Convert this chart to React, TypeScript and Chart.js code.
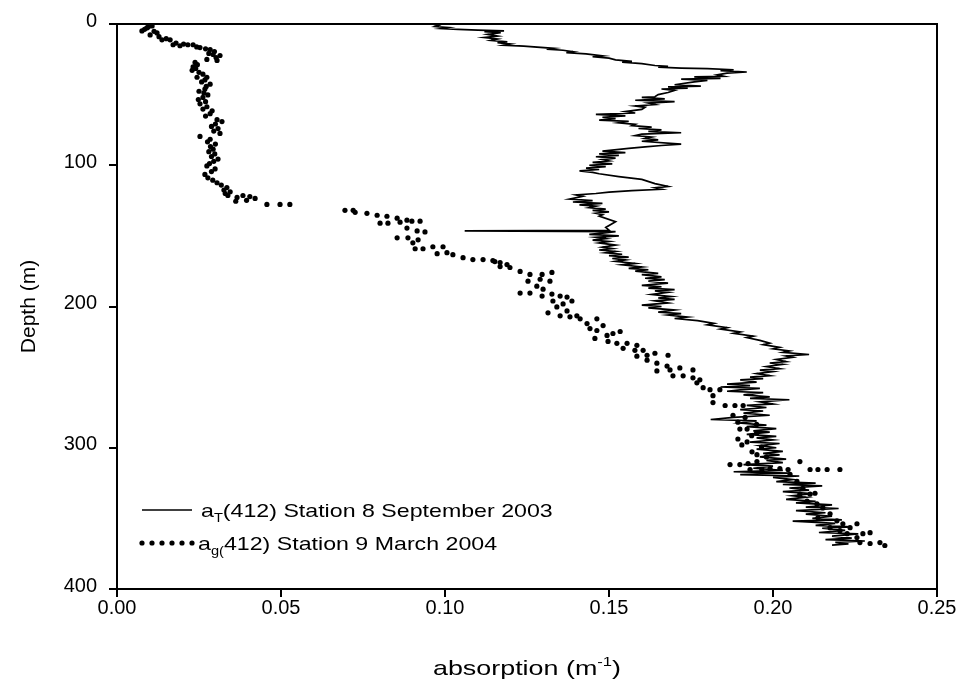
import { useEffect, useRef } from 'react';
import { Chart, registerables } from 'chart.js';

Chart.register(...registerables);

// ---- Data (absorption m^-1, depth m) ----
const xTickValues = [0, 0.05, 0.1, 0.15, 0.2, 0.25];
const yTickValues = [0, 100, 200, 300, 400];

const legendLineLabel = ['a', 'T', '(412) Station 8 September 2003'];
const legendDotLabel = ['a', 'g(', '412) Station 9 March 2004'];
const xTitle = ['absorption (m', '-1', ')'];
const yTitle = 'Depth (m)';

// a_T(412) Station 8, September 2003 (solid line)
const aTSept2003: [number, number][] = [
  [0.096, 0], [0.098, 1], [0.097, 1.8], [0.101, 2.5], [0.099, 3.2], [0.104, 3.8], [0.110, 4.4], [0.118, 4.9],
  [0.112, 5.5], [0.117, 6.2], [0.113, 7.4], [0.116, 8.6], [0.112, 9.6], [0.116, 10.6], [0.114, 11.6], [0.119, 12.6],
  [0.116, 13.2], [0.120, 14.2], [0.118, 15], [0.124, 15.6], [0.133, 17.2], [0.131, 17.8], [0.136, 18.6], [0.139, 19.6],
  [0.137, 20.2], [0.143, 21.2], [0.148, 22.6], [0.145, 23.2], [0.150, 24.2], [0.152, 25.4], [0.157, 26.4], [0.154, 27],
  [0.160, 28], [0.164, 29.4], [0.168, 30], [0.165, 30.6], [0.172, 31.2], [0.180, 31.6], [0.188, 32.4], [0.184, 33],
  [0.192, 34], [0.186, 34.8], [0.183, 36], [0.185, 37], [0.176, 37.5], [0.184, 38.5], [0.172, 39], [0.180, 40],
  [0.176, 41], [0.170, 43], [0.178, 44], [0.168, 44.5], [0.174, 45.5], [0.166, 46], [0.170, 47], [0.168, 48.5],
  [0.165, 50], [0.164, 51.5], [0.160, 52], [0.167, 53], [0.158, 54], [0.170, 55], [0.162, 56], [0.164, 57],
  [0.158, 58], [0.161, 59], [0.160, 60.5], [0.155, 62], [0.158, 63], [0.146, 64], [0.155, 65], [0.148, 66],
  [0.152, 67], [0.147, 68], [0.156, 69], [0.153, 70], [0.158, 71], [0.157, 72], [0.163, 73], [0.159, 74],
  [0.166, 75], [0.162, 76], [0.172, 77], [0.160, 78], [0.158, 79], [0.163, 80], [0.161, 81], [0.165, 82],
  [0.160, 83], [0.172, 85], [0.166, 86], [0.161, 87], [0.156, 88], [0.148, 90], [0.155, 91], [0.147, 92],
  [0.153, 93], [0.146, 94], [0.152, 95], [0.148, 96], [0.150, 97], [0.145, 98], [0.151, 99], [0.144, 100],
  [0.149, 101], [0.143, 102], [0.147, 103], [0.141, 104], [0.145, 105], [0.147, 106], [0.153, 108], [0.160, 110],
  [0.164, 113], [0.168, 115], [0.164, 116], [0.166, 117], [0.157, 118], [0.150, 119], [0.146, 120], [0.140, 121],
  [0.142, 122], [0.138, 124], [0.145, 125], [0.139, 126], [0.148, 127], [0.141, 128], [0.146, 129], [0.144, 130],
  [0.149, 131], [0.145, 132], [0.150, 133], [0.146, 134], [0.148, 135], [0.147, 136], [0.152, 140], [0.149, 144],
  [0.150, 146], [0.106, 146.5], [0.152, 147], [0.148, 148], [0.144, 149], [0.153, 150], [0.146, 151], [0.149, 152],
  [0.145, 153], [0.150, 154], [0.147, 155], [0.152, 156.5], [0.148, 158], [0.151, 159], [0.147, 160], [0.152, 161],
  [0.149, 162], [0.154, 163], [0.150, 164], [0.156, 165], [0.151, 166], [0.155, 167], [0.152, 168], [0.158, 169.5],
  [0.154, 170.5], [0.160, 172], [0.156, 173], [0.162, 174], [0.158, 175], [0.165, 176.5], [0.160, 177.5], [0.166, 179],
  [0.161, 180], [0.167, 181], [0.162, 182], [0.168, 183.5], [0.160, 185], [0.166, 186], [0.162, 187], [0.170, 188],
  [0.164, 189], [0.168, 190], [0.163, 191.5], [0.169, 193], [0.165, 194], [0.170, 195], [0.164, 196], [0.168, 197.5],
  [0.160, 199], [0.166, 200], [0.162, 201], [0.170, 202.5], [0.165, 204], [0.172, 205], [0.168, 206], [0.174, 207.5],
  [0.170, 208.5], [0.177, 210], [0.182, 212], [0.180, 213], [0.186, 215], [0.184, 216], [0.190, 218], [0.188, 219],
  [0.194, 221], [0.192, 222], [0.196, 224], [0.199, 226], [0.197, 227], [0.202, 229], [0.200, 230], [0.205, 231.5],
  [0.203, 232.5], [0.211, 234], [0.204, 235], [0.206, 236], [0.201, 237.5], [0.204, 239], [0.199, 240], [0.203, 241],
  [0.198, 242.5], [0.202, 244], [0.196, 245], [0.200, 246], [0.195, 247.5], [0.199, 249], [0.193, 250], [0.197, 251],
  [0.190, 252], [0.195, 253.5], [0.186, 255], [0.193, 256], [0.184, 257], [0.196, 258], [0.190, 259], [0.186, 260],
  [0.197, 261], [0.191, 262.5], [0.199, 264], [0.193, 265], [0.205, 266], [0.196, 267.5], [0.200, 269], [0.192, 270],
  [0.198, 271.5], [0.190, 273], [0.197, 274], [0.191, 275.5], [0.199, 277], [0.188, 278.5], [0.181, 280], [0.195, 281],
  [0.190, 282.5], [0.198, 284], [0.192, 285], [0.201, 286.5], [0.194, 288], [0.199, 289], [0.192, 290.5], [0.201, 292],
  [0.195, 293], [0.200, 294.5], [0.193, 296], [0.202, 297], [0.196, 298.5], [0.201, 300], [0.195, 301], [0.203, 302.5],
  [0.197, 304], [0.202, 305], [0.196, 306.5], [0.204, 308], [0.198, 309], [0.203, 310.5], [0.191, 312], [0.200, 313],
  [0.194, 314.5], [0.203, 316], [0.188, 317], [0.205, 318], [0.190, 319], [0.208, 320], [0.200, 321], [0.206, 322.5],
  [0.201, 324], [0.213, 325], [0.203, 326], [0.215, 327], [0.205, 328.5], [0.211, 330], [0.203, 331], [0.212, 332.5],
  [0.206, 334], [0.210, 335], [0.204, 336.5], [0.213, 338], [0.207, 339], [0.218, 340.5], [0.210, 342], [0.220, 343],
  [0.207, 344.5], [0.216, 346], [0.210, 347], [0.218, 348.5], [0.212, 350], [0.221, 351], [0.206, 352], [0.219, 353.5],
  [0.213, 355], [0.224, 356], [0.215, 357], [0.222, 358.5], [0.214, 360], [0.226, 361], [0.218, 362.5], [0.224, 364],
  [0.216, 365], [0.228, 366], [0.219, 367], [0.223, 368], [0.218, 369],
];

// a_g(412) Station 9, March 2004 (dots)
const agMarch2004: [number, number][] = [
  [0.0107, 1.4], [0.0095, 2.2], [0.0091, 2.8], [0.0084, 3.8], [0.0076, 4.9], [0.0113, 5.2], [0.0122, 6.3], [0.0101, 7.7],
  [0.0128, 9.0], [0.0150, 10.4], [0.0137, 11.2], [0.0162, 11.2], [0.0180, 13.5], [0.0203, 14.2], [0.0171, 14.7], [0.0216, 14.7],
  [0.0232, 14.7], [0.0192, 15.4], [0.0243, 16.2], [0.0253, 16.7], [0.0270, 17.6], [0.0284, 18.1], [0.0297, 19.5], [0.0280, 20.8],
  [0.0293, 21.6], [0.0314, 22.3], [0.0302, 23.7], [0.0274, 25.1], [0.0305, 25.8], [0.0238, 27.2], [0.0245, 28.8], [0.0232, 30.4],
  [0.0240, 31.5], [0.0229, 32.8], [0.0250, 34.2], [0.0262, 35.5], [0.0244, 37.7], [0.0274, 37.7], [0.0268, 39.6], [0.0258, 41.0],
  [0.0284, 42.6], [0.0272, 44.2], [0.0268, 46.1], [0.0250, 47.6], [0.0265, 48.8], [0.0277, 50.2], [0.0262, 52.0], [0.0248, 53.5],
  [0.0270, 55.0], [0.0253, 56.5], [0.0274, 58.6], [0.0262, 60.2], [0.0290, 61.5], [0.0284, 63.5], [0.0270, 65.2], [0.0305, 67.7],
  [0.0320, 69.1], [0.0300, 70.8], [0.0288, 72.5], [0.0308, 74.0], [0.0295, 75.8], [0.0314, 77.5], [0.0253, 79.6], [0.0284, 81.6],
  [0.0276, 83.4], [0.0300, 85.0], [0.0285, 86.8], [0.0293, 88.6], [0.0280, 90.4], [0.0298, 92.0], [0.0288, 93.8], [0.0308, 95.6],
  [0.0295, 97.2], [0.0282, 98.8], [0.0274, 100.5], [0.0299, 102.6], [0.0288, 104.5], [0.0268, 106.5], [0.0277, 108.9], [0.0292, 110.6],
  [0.0305, 112.4], [0.0318, 114.0], [0.0335, 115.8], [0.0326, 117.6], [0.0345, 118.8], [0.0330, 120.0], [0.0338, 121.4], [0.0384, 121.4],
  [0.0366, 122.8], [0.0405, 122.2], [0.0421, 123.5], [0.0395, 124.8], [0.0362, 125.5], [0.0457, 127.7], [0.0497, 127.7], [0.0527, 127.7],
  [0.0695, 131.9], [0.0720, 131.9], [0.0726, 133.3], [0.0762, 134.0], [0.0793, 135.4], [0.0823, 136.1], [0.0854, 137.5], [0.0884, 138.9],
  [0.0899, 139.6], [0.0924, 139.6], [0.0863, 140.3], [0.0802, 141.0], [0.0826, 141.0], [0.0884, 144.5], [0.0915, 146.5], [0.0939, 147.2],
  [0.0854, 151.4], [0.0887, 151.4], [0.0918, 152.8], [0.0902, 154.9], [0.0963, 157.7], [0.0994, 157.7], [0.0909, 159.1], [0.0933, 159.1],
  [0.1006, 161.9], [0.0976, 162.6], [0.1024, 163.3], [0.1055, 165.4], [0.1085, 166.8], [0.1116, 166.8], [0.1146, 167.5], [0.1152, 168.2],
  [0.1168, 168.9], [0.1189, 170.3], [0.1168, 171.7], [0.1198, 172.4], [0.1229, 175.2], [0.1326, 175.9], [0.1259, 177.3], [0.1296, 177.3],
  [0.1290, 180.7], [0.1253, 182.1], [0.1320, 182.1], [0.1280, 185.6], [0.1299, 187.7], [0.1229, 190.5], [0.1259, 190.5], [0.1326, 191.2],
  [0.1296, 192.6], [0.1351, 192.6], [0.1372, 193.3], [0.1329, 196.1], [0.1387, 196.1], [0.1360, 198.2], [0.1341, 200.3], [0.1372, 203.1],
  [0.1314, 204.5], [0.1402, 206.6], [0.1351, 206.6], [0.1381, 207.3], [0.1412, 208.7], [0.1463, 208.7], [0.1433, 212.1], [0.1482, 213.5],
  [0.1442, 215.6], [0.1463, 217.0], [0.1534, 217.7], [0.1512, 219.1], [0.1494, 220.5], [0.1457, 222.6], [0.1497, 224.7], [0.1524, 226.1],
  [0.1555, 226.1], [0.1585, 227.5], [0.1543, 229.6], [0.1579, 231.0], [0.1604, 231.0], [0.1640, 233.1], [0.1616, 234.5], [0.1680, 234.5],
  [0.1585, 235.2], [0.1616, 238.0], [0.1646, 240.1], [0.1677, 242.2], [0.1716, 243.5], [0.1686, 244.9], [0.1646, 245.6], [0.1756, 244.9],
  [0.1695, 249.1], [0.1726, 249.1], [0.1756, 250.5], [0.1777, 251.9], [0.1768, 254.0], [0.1787, 257.5], [0.1808, 258.9], [0.1838, 258.9],
  [0.1817, 263.1], [0.1817, 268.0], [0.1854, 270.1], [0.1884, 270.1], [0.1909, 270.1], [0.1878, 277.0], [0.1915, 278.5], [0.1893, 281.9],
  [0.1950, 283.5], [0.1899, 286.8], [0.1921, 286.8], [0.1950, 289.5], [0.1935, 291.5], [0.1893, 293.8], [0.1921, 295.9], [0.1905, 298.0],
  [0.1965, 299.5], [0.1936, 302.9], [0.1951, 304.9], [0.1980, 306.5], [0.1951, 309.8], [0.2082, 309.8], [0.1924, 311.2], [0.1869, 311.9],
  [0.1899, 311.9], [0.1991, 314.7], [0.2021, 314.7], [0.1930, 315.4], [0.1966, 315.4], [0.2046, 315.4], [0.2113, 315.4], [0.2137, 315.4],
  [0.2165, 315.4], [0.2204, 315.4], [0.2052, 318.9], [0.2073, 323.8], [0.2091, 328.7], [0.2128, 332.2], [0.2082, 332.9], [0.2113, 332.9],
  [0.2104, 337.8], [0.2134, 339.8], [0.2152, 342.6], [0.2174, 346.8], [0.2137, 349.6], [0.2195, 351.7], [0.2213, 353.8], [0.2256, 353.8],
  [0.2174, 356.6], [0.2235, 356.6], [0.2204, 358.7], [0.2296, 360.1], [0.2226, 360.8], [0.2274, 360.8], [0.2256, 363.6], [0.2265, 367.1],
  [0.2326, 367.1], [0.2296, 367.8], [0.2341, 369.2],
];

const FONT = '"Liberation Sans", Arial, Helvetica, sans-serif';

type Part = { t: string; size: number; dy: number };

function partsWidth(ctx: CanvasRenderingContext2D, parts: Part[]) {
  let w = 0;
  for (const p of parts) {
    ctx.font = `${p.size}px ${FONT}`;
    w += ctx.measureText(p.t).width;
  }
  return w;
}

function drawParts(ctx: CanvasRenderingContext2D, parts: Part[], x: number, y: number, sx: number) {
  ctx.save();
  ctx.translate(x, y);
  ctx.scale(sx, 1);
  ctx.textAlign = 'left';
  ctx.textBaseline = 'alphabetic';
  let cx = 0;
  for (const p of parts) {
    ctx.font = `${p.size}px ${FONT}`;
    ctx.fillText(p.t, cx, p.dy);
    cx += ctx.measureText(p.t).width;
  }
  ctx.restore();
}

const decorations = {
  id: 'decorations',
  afterDraw(chart: any) {
    const ctx: CanvasRenderingContext2D = chart.ctx;
    const a = chart.chartArea;
    ctx.save();
    ctx.fillStyle = '#000';
    ctx.strokeStyle = '#000';
    // plot frame
    ctx.lineWidth = 2;
    ctx.strokeRect(a.left, a.top, a.right - a.left, a.bottom - a.top);

    // x-axis title
    const xs = 1.28;
    const xParts: Part[] = [
      { t: xTitle[0], size: 21, dy: 0 },
      { t: xTitle[1], size: 13, dy: -9 },
      { t: xTitle[2], size: 21, dy: 0 },
    ];
    const xw = partsWidth(ctx, xParts) * xs;
    drawParts(ctx, xParts, (a.left + a.right) / 2 - xw / 2, 675, xs);

    // y-axis title
    ctx.save();
    ctx.translate(35, (a.top + a.bottom) / 2);
    ctx.rotate(-Math.PI / 2);
    ctx.font = `21px ${FONT}`;
    const yw = ctx.measureText(yTitle).width;
    drawParts(ctx, [{ t: yTitle, size: 21, dy: 0 }], -yw / 2, 0, 1);
    ctx.restore();

    // legend
    const ls = 1.22;
    const lx = 142;
    const r1 = 510;
    const r2 = 543;
    ctx.lineWidth = 1.6;
    ctx.beginPath();
    ctx.moveTo(lx, r1);
    ctx.lineTo(lx + 50, r1);
    ctx.stroke();
    drawParts(
      ctx,
      [
        { t: legendLineLabel[0], size: 19, dy: 0 },
        { t: legendLineLabel[1], size: 12, dy: 5 },
        { t: legendLineLabel[2], size: 19, dy: 0 },
      ],
      lx + 59,
      r1 + 7,
      ls
    );
    for (let i = 0; i < 6; i++) {
      ctx.beginPath();
      ctx.arc(lx + i * 10, r2, 2.6, 0, Math.PI * 2);
      ctx.fill();
    }
    drawParts(
      ctx,
      [
        { t: legendDotLabel[0], size: 19, dy: 0 },
        { t: legendDotLabel[1], size: 12, dy: 5 },
        { t: legendDotLabel[2], size: 19, dy: 0 },
      ],
      lx + 56,
      r2 + 7,
      ls
    );
    ctx.restore();
  },
};

export default function App() {
  const ref = useRef<HTMLCanvasElement>(null);
  useEffect(() => {
    if (!ref.current) return;
    const chart = new Chart(ref.current, {
      type: 'scatter',
      data: {
        datasets: [
          {
            label: 'aT',
            data: aTSept2003.map(([x, y]) => ({ x, y })),
            showLine: true,
            borderColor: '#000',
            backgroundColor: '#000',
            borderWidth: 1.7,
            pointRadius: 0,
            tension: 0,
          },
          {
            label: 'ag',
            data: agMarch2004.map(([x, y]) => ({ x, y })),
            showLine: false,
            borderColor: '#000',
            backgroundColor: '#000',
            pointRadius: 2.6,
            pointBorderWidth: 0,
          },
        ],
      },
      options: {
        animation: false,
        responsive: true,
        maintainAspectRatio: false,
        layout: { padding: { top: 16, right: 27, left: 0, bottom: 0 } },
        plugins: { legend: { display: false }, tooltip: { enabled: false } },
        events: [],
        scales: {
          x: {
            type: 'linear',
            min: 0,
            max: 0.25,
            afterFit: (s: any) => {
              s.height = 107;
            },
            afterBuildTicks: (s: any) => {
              s.ticks = xTickValues.map((v) => ({ value: v }));
            },
            ticks: {
              color: '#000',
              font: { family: FONT, size: 20 },
              padding: -1,
              maxRotation: 0,
              callback: (v: any) => Number(v).toFixed(2),
            },
            grid: { drawOnChartArea: false, drawTicks: true, tickLength: 8, color: '#000', lineWidth: 2 },
            border: { display: false },
          },
          y: {
            type: 'linear',
            min: 0,
            max: 400,
            reverse: true,
            afterFit: (s: any) => {
              s.width = 117;
            },
            afterBuildTicks: (s: any) => {
              s.ticks = yTickValues.map((v) => ({ value: v }));
            },
            ticks: {
              color: '#000',
              font: { family: FONT, size: 20 },
              padding: 12,
              labelOffset: -3,
              callback: (v: any) => String(v),
            },
            grid: { drawOnChartArea: false, drawTicks: true, tickLength: 8, color: '#000', lineWidth: 2 },
            border: { display: false },
          },
        },
      },
      plugins: [decorations],
    });
    return () => chart.destroy();
  }, []);
  return (
    <div style={{ position: 'fixed', left: 0, top: 0, width: 964, height: 696, background: '#fff' }}>
      <canvas ref={ref} />
    </div>
  );
}
